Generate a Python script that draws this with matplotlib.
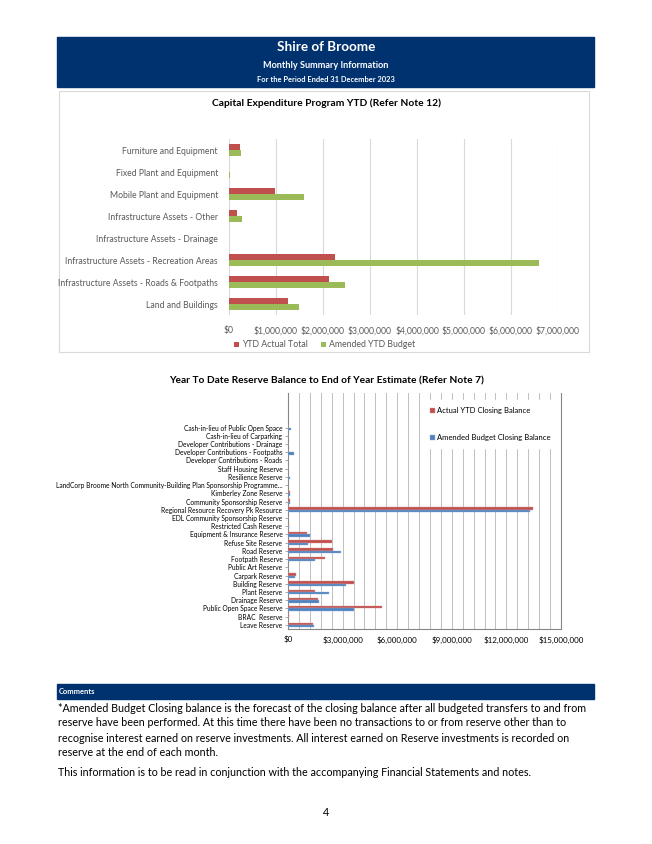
"""
Shire of Broome - monthly summary page: capital expenditure + reserve balances.
"""

import matplotlib

matplotlib.use("Agg")
import matplotlib.pyplot as plt
from matplotlib.patches import Rectangle
from matplotlib.ticker import FuncFormatter, MultipleLocator

plt.rcParams["font.family"] = ["Lato", "DejaVu Sans"]

W, H = 652, 844
NAVY = "#003270"
RED = "#C0504D"
GREEN = "#9BBB59"
BLUE = "#4F81BD"
GRID = "#D9D9D9"
TXT = "#595959"

# --- capital expenditure (top to bottom as shown) ---
cap_categories = [
    "Furniture and Equipment",
    "Fixed Plant and Equipment",
    "Mobile Plant and Equipment",
    "Infrastructure Assets - Other",
    "Infrastructure Assets - Drainage",
    "Infrastructure Assets - Recreation Areas",
    "Infrastructure Assets - Roads & Footpaths",
    "Land and Buildings",
]
ytd_actual = [230000, 0, 970000, 180000, 0, 2260000, 2130000, 1260000]
amended_ytd_budget = [260000, 20000, 1590000, 270000, 0, 6590000, 2460000, 1490000]

# --- reserves (top to bottom as shown) ---
reserve_names = [
    "Cash-in-lieu of Public Open Space",
    "Cash-in-lieu of Carparking",
    "Developer Contributions - Drainage",
    "Developer Contributions - Footpaths",
    "Developer Contributions - Roads",
    "Staff Housing Reserve",
    "Resilience Reserve",
    "LandCorp Broome North Community-Building Plan Sponsorship Programme...",
    "Kimberley Zone Reserve",
    "Community Sponsorship Reserve",
    "Regional Resource Recovery Pk Resource",
    "EDL Community Sponsorship Reserve",
    "Restricted Cash Reserve",
    "Equipment & Insurance Reserve",
    "Refuse Site Reserve",
    "Road Reserve",
    "Footpath Reserve",
    "Public Art Reserve",
    "Carpark Reserve",
    "Building Reserve",
    "Plant Reserve",
    "Drainage Reserve",
    "Public Open Space Reserve",
    "BRAC  Reserve",
    "Leave Reserve",
]
actual_closing = [0, 0, 0, 0, 0, 0, 0, 0, 90000, 90000, 13440000, 20000, 70000,
                  1060000, 2400000, 2470000, 2050000, 0, 440000, 3600000,
                  1460000, 1650000, 5180000, 50000, 1370000]
budget_closing = [180000, 0, 20000, 330000, 0, 0, 90000, 0, 90000, 90000, 13280000,
                  20000, 70000, 1210000, 1120000, 2910000, 1460000, 0, 380000,
                  3200000, 2270000, 1700000, 3600000, 0, 1410000]

comment_lines = [
    "*Amended Budget Closing balance is the forecast of the closing balance after all budgeted transfers to and from",
    "reserve have been performed. At this time there have been no transactions to or from reserve other than to",
    "recognise interest earned on reserve investments. All interest earned on Reserve investments is recorded on",
    "reserve at the end of each month.",
]


def rect(left, top, right, bottom):
    return [left / W, 1 - bottom / H, (right - left) / W, (bottom - top) / H]


def fy(y):
    return 1 - y / H


def dollars(v, _):
    return "$0" if v == 0 else f"${v:,.0f}"


fig = plt.figure(figsize=(W / 100, H / 100), dpi=100)

# header band
fig.patches.append(Rectangle((57 / W, fy(87)), (594 - 57) / W, 50 / H,
                             transform=fig.transFigure, color=NAVY, zorder=-1))
fig.text(326 / W, fy(47), "Shire of Broome", color="white", fontsize=9.7,
         fontweight="bold", ha="center", va="center")
fig.text(326 / W, fy(65), "Monthly Summary Information", color="white", fontsize=6.6,
         fontweight="bold", ha="center", va="center")
fig.text(326 / W, fy(80), "For the Period Ended 31 December 2023", color="white",
         fontsize=5.4, fontweight="bold", ha="center", va="center")

# top chart frame
fig.patches.append(Rectangle((59 / W, fy(352)), (589 - 59) / W, (352 - 91) / H,
                             transform=fig.transFigure, facecolor="white",
                             edgecolor="#D9D9D9", linewidth=0.8, zorder=-1))
fig.text(326 / W, fy(103), "Capital Expenditure Program YTD (Refer Note 12)",
         fontsize=7.4, fontweight="bold", ha="center", va="center", color="black")

ax1 = fig.add_axes(rect(229, 139, 558, 315))
ax1.set_zorder(2)
n = len(cap_categories)
pos = [n - 1 - i for i in range(n)]
bh = 0.28
ax1.barh([p + bh / 2 for p in pos], ytd_actual, height=bh, color=RED,
         label="YTD Actual Total", zorder=3)
ax1.barh([p - bh / 2 for p in pos], amended_ytd_budget, height=bh, color=GREEN,
         label="Amended YTD Budget", zorder=3)
ax1.set_xlim(0, 7000000)
ax1.set_ylim(-0.5, n - 0.5)
ax1.xaxis.set_major_locator(MultipleLocator(1000000))
ax1.xaxis.set_major_formatter(FuncFormatter(dollars))
ax1.set_yticks(pos)
ax1.set_yticklabels(cap_categories)
ax1.grid(axis="x", color=GRID, linewidth=0.8, zorder=0)
for s in ax1.spines.values():
    s.set_visible(False)
ax1.tick_params(length=0, labelsize=6.2, labelcolor=TXT, pad=8)
ax1.tick_params(axis="x", pad=8)
ax1.legend(loc="upper center", bbox_to_anchor=(0.29, -0.1), ncol=2, frameon=False,
           fontsize=6.3, handlelength=0.6, handleheight=0.6, handletextpad=0.3,
           columnspacing=1.5, labelcolor=TXT)

# bottom chart
fig.text(326 / W, fy(381), "Year To Date Reserve Balance to End of Year Estimate (Refer Note 7)",
         fontsize=7.3, fontweight="bold", ha="center", va="center", color="black")

ax2 = fig.add_axes(rect(288, 393, 561, 629))
m = len(reserve_names)
pos2 = [m - 1 - i for i in range(m)]
bh2 = 0.29
ax2.barh([p + bh2 / 2 for p in pos2], actual_closing, height=bh2, color=RED,
         edgecolor="#D99694", linewidth=0.3, label="Actual YTD Closing Balance", zorder=3)
ax2.barh([p - bh2 / 2 for p in pos2], budget_closing, height=bh2, color=BLUE,
         edgecolor="#95B3D7", linewidth=0.3, label="Amended Budget Closing Balance", zorder=3)
ax2.set_xlim(0, 15000000)
ax2.set_ylim(-0.5, m - 0.5 + 3.7)
ax2.xaxis.set_major_locator(MultipleLocator(3000000))
ax2.xaxis.set_minor_locator(MultipleLocator(600000))
ax2.xaxis.set_major_formatter(FuncFormatter(dollars))
ax2.set_yticks(pos2)
ax2.set_yticklabels(reserve_names)
ax2.grid(axis="x", which="both", color="#BFBFBF", linewidth=0.7, zorder=0)
ax2.spines["top"].set_visible(False)
for side in ("left", "bottom", "right"):
    ax2.spines[side].set_color("#868686")
    ax2.spines[side].set_linewidth(0.8)
ax2.tick_params(axis="y", length=2, width=0.5, color="#868686", labelsize=4.8,
                labelcolor="black", pad=2)
ax2.tick_params(axis="x", which="both", length=0, labelsize=5.8, labelcolor="black", pad=5)
leg = ax2.legend(loc="upper left", bbox_to_anchor=(0.48, 0.985), frameon=True,
                 fontsize=5.5, handlelength=0.7, handleheight=0.7, handletextpad=0.3,
                 labelspacing=2.6, borderpad=0.9, fancybox=False)
leg.get_frame().set_facecolor("white")
leg.get_frame().set_edgecolor("white")
leg.get_frame().set_alpha(1)

# comments
fig.patches.append(Rectangle((57 / W, fy(699)), (594 - 57) / W, 15 / H,
                             transform=fig.transFigure, color=NAVY, zorder=-1))
fig.text(59 / W, fy(691.5), "Comments", color="white", fontsize=5.4,
         fontweight="bold", ha="left", va="center")
for i, line in enumerate(comment_lines):
    fig.text(58 / W, fy(708 + 15 * i), line, fontsize=7.75, ha="left", va="center",
             color="black")
fig.text(58 / W, fy(773), "This information is to be read in conjunction with the accompanying Financial Statements and notes.",
         fontsize=7.75, ha="left", va="center", color="black")
fig.text(326 / W, fy(812), "4", fontsize=7.75, ha="center", va="center", color="black")

fig.savefig("out.png", dpi=100)
plt.close(fig)
